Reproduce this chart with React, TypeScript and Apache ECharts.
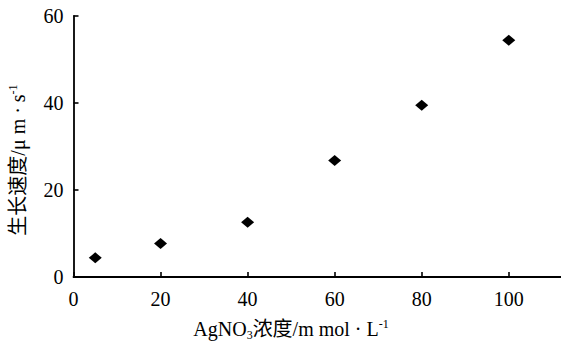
import React, { useEffect, useRef } from "react";
import * as echarts from "echarts";

const concentrations = [5, 20, 40, 60, 80, 100];
const growthRates = [4.4, 7.7, 12.6, 26.8, 39.5, 54.4];
const xTickLabels = [0, 20, 40, 60, 80, 100];

const SERIF = '"Liberation Serif", "Times New Roman", "Noto Sans CJK SC", serif';

export default function App() {
  const ref = useRef<HTMLDivElement>(null);
  useEffect(() => {
    if (!ref.current) return;
    const chart = echarts.init(ref.current, null, { renderer: "svg" });
    chart.setOption({
      animation: false,
      backgroundColor: "#ffffff",
      grid: { left: 73.5, right: 0, top: 16, bottom: 64, containLabel: false },
      xAxis: {
        type: "value",
        min: 0,
        max: 112,
        interval: 20,
        axisLine: { show: true, onZero: false, lineStyle: { color: "#000", width: 1.8 } },
        axisTick: {
          show: true,
          inside: true,
          length: 5,
          lineStyle: { color: "#000", width: 1.6, opacity: 1 },
        },
        axisLabel: {
          color: "#000",
          fontFamily: SERIF,
          fontSize: 20,
          margin: 12,
          showMaxLabel: false,
          formatter: (v: number) => (xTickLabels.includes(v) ? String(v) : ""),
        },
        splitLine: { show: false },
      },
      yAxis: {
        type: "value",
        min: 0,
        max: 60,
        interval: 20,
        axisLine: { show: true, onZero: false, lineStyle: { color: "#000", width: 1.8 } },
        axisTick: {
          show: true,
          inside: true,
          length: 5,
          lineStyle: { color: "#000", width: 1.6, opacity: 1 },
        },
        axisLabel: {
          color: "#000",
          fontFamily: SERIF,
          fontSize: 20,
          margin: 10,
        },
        splitLine: { show: false },
      },
      series: [
        {
          type: "scatter",
          symbol: "diamond",
          symbolSize: [13, 11],
          z: 10,
          itemStyle: { color: "#000", opacity: 1 },
          data: concentrations.map((c, i) => [c, growthRates[i]]),
        },
      ],
      graphic: [
        {
          type: "text",
          x: 291,
          y: 329,
          style: {
            text: "AgNO{sub|3}浓度/m mol · L{sup|-1}",
            fontFamily: SERIF,
            fontSize: 20,
            fill: "#000",
            align: "center",
            verticalAlign: "middle",
            rich: {
              sub: { fontSize: 12, fontFamily: SERIF, fill: "#000", padding: [11, 0, 0, 0] },
              sup: { fontSize: 12, fontFamily: SERIF, fill: "#000", padding: [0, 0, 11, 0] },
            },
          },
        },
        {
          type: "text",
          x: 18,
          y: 160,
          rotation: Math.PI / 2,
          style: {
            text: "生长速度/μ m · s{sup|-1}",
            fontFamily: SERIF,
            fontSize: 20,
            fill: "#000",
            align: "center",
            verticalAlign: "middle",
            rich: {
              sup: { fontSize: 12, fontFamily: SERIF, fill: "#000", padding: [0, 0, 11, 0] },
            },
          },
        },
      ],
    });
    return () => chart.dispose();
  }, []);
  return <div ref={ref} style={{ width: 561, height: 341, position: "absolute", left: 0, top: 0 }} />;
}
